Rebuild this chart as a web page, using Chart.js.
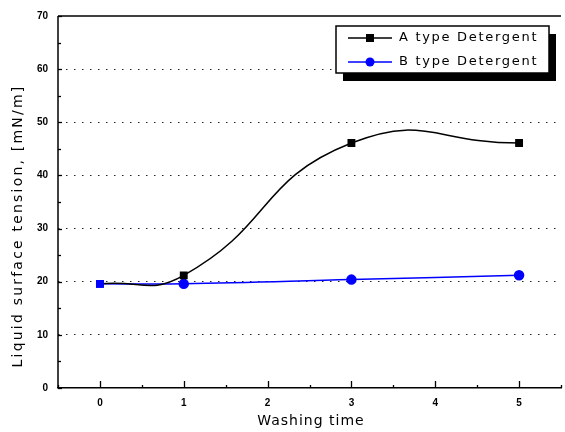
<!DOCTYPE html>
<html>
<head>
<meta charset="utf-8">
<script src="https://cdn.jsdelivr.net/npm/chart.js@4.4.1/dist/chart.umd.min.js"></script>
<style>
html,body{margin:0;padding:0;background:#fff;overflow:hidden;width:565px;height:432px;}
#wrap{width:567px;height:432px;position:relative;}
</style>
</head>
<body>
<div id="wrap"><canvas id="c" width="567" height="432"></canvas></div>
<script>
const washingTime = [0, 1, 3, 5];
const seriesA = [19.6, 21.2, 46.1, 46.1];
const seriesB = [19.6, 19.6, 20.4, 21.2];
const seriesNames = ['A type Detergent', 'B type Detergent'];
const xTickValues = [0, 1, 2, 3, 4, 5];
const yTickValues = [0, 10, 20, 30, 40, 50, 60, 70];
const xTitle = 'Washing time';
const yTitle = 'Liquid surface tension, [mN/m]';

const toXY = (ys) => washingTime.map((x, i) => ({x: x, y: ys[i]}));

const decor = {
  id: 'decor',
  afterDraw(chart) {
    const ctx = chart.ctx, a = chart.chartArea;
    const xs = chart.scales.x, ys = chart.scales.y;
    ctx.save();
    ctx.setLineDash([]);
    ctx.strokeStyle = '#000';
    ctx.lineWidth = 1.5;
    // top border and left axis
    ctx.beginPath(); ctx.moveTo(a.left, a.top); ctx.lineTo(a.right, a.top); ctx.stroke();
    ctx.beginPath(); ctx.moveTo(a.left, a.top); ctx.lineTo(a.left, a.bottom); ctx.stroke();
    // x ticks (inward)
    ctx.lineWidth = 1.3;
    for (let v = -0.5; v <= 5.5; v += 0.5) {
      const px = Math.round(xs.getPixelForValue(v)) + 0.5;
      const major = Number.isInteger(v);
      ctx.beginPath(); ctx.moveTo(px, a.bottom); ctx.lineTo(px, a.bottom - (major ? 7 : 3)); ctx.stroke();
    }
    // y ticks (inward)
    for (let v = 0; v <= 70; v += 5) {
      const py = Math.round(ys.getPixelForValue(v)) + 0.5;
      const major = v % 10 === 0;
      ctx.beginPath(); ctx.moveTo(a.left, py); ctx.lineTo(a.left + (major ? 4 : 3), py); ctx.stroke();
    }
    // axis titles
    ctx.fillStyle = '#000';
    ctx.font = '14px "DejaVu Sans"';
    ctx.letterSpacing = '1px';
    ctx.textAlign = 'center'; ctx.textBaseline = 'middle';
    ctx.fillText(xTitle, 311, 421);
    ctx.save();
    ctx.translate(18, 226);
    ctx.rotate(-Math.PI / 2);
    ctx.font = '14px "DejaVu Sans"';
    ctx.letterSpacing = '2.2px';
    ctx.fillText(yTitle, 0, 0);
    ctx.restore();
    // legend
    const bx = 336, by = 26, bw = 213, bh = 47;
    ctx.fillStyle = '#000';
    ctx.fillRect(bx + 7, by + 8, bw, bh);
    ctx.fillStyle = '#fff';
    ctx.fillRect(bx, by, bw, bh);
    ctx.lineWidth = 1.5; ctx.strokeStyle = '#000';
    ctx.strokeRect(bx, by, bw, bh);
    const ds = chart.data.datasets;
    const rows = [38, 62];
    ds.forEach((d, i) => {
      const y = rows[i];
      ctx.strokeStyle = d.borderColor; ctx.lineWidth = 1.5;
      ctx.beginPath(); ctx.moveTo(348, y); ctx.lineTo(392, y); ctx.stroke();
      ctx.fillStyle = d.borderColor;
      if (i === 0) { ctx.fillRect(366, y - 4, 8, 8); }
      else { ctx.beginPath(); ctx.arc(370, y, 4.5, 0, Math.PI * 2); ctx.fill(); }
      ctx.fillStyle = '#000';
      ctx.font = '13px "DejaVu Sans"';
      ctx.letterSpacing = '1.7px';
      ctx.textAlign = 'left';
      ctx.fillText(d.label, 399, y);
    });
    ctx.restore();
  }
};

new Chart(document.getElementById('c'), {
  type: 'line',
  data: {
    datasets: [
      {
        label: seriesNames[0],
        data: toXY(seriesA),
        borderColor: '#000000',
        backgroundColor: '#000000',
        pointBackgroundColor: ['#0000ff', '#000', '#000', '#000'],
        pointBorderColor: ['#0000ff', '#000', '#000', '#000'],
        pointStyle: 'rect',
        pointRadius: 4.5,
        borderWidth: 1.5,
        tension: 0.5,
        fill: false
      },
      {
        label: seriesNames[1],
        data: toXY(seriesB),
        borderColor: '#0000ff',
        backgroundColor: '#0000ff',
        pointStyle: ['rect', 'circle', 'circle', 'circle'],
        pointRadius: 4.5,
        borderWidth: 1.5,
        tension: 0.4,
        fill: false
      }
    ]
  },
  options: {
    responsive: false,
    animation: false,
    events: [],
    layout: {padding: {top: 14, right: 0, left: 0, bottom: 0}},
    plugins: {legend: {display: false}, tooltip: {enabled: false}, title: {display: false}},
    scales: {
      x: {
        type: 'linear', min: -0.5, max: 5.5,
        afterBuildTicks: (s) => { s.ticks = xTickValues.map(v => ({value: v})); },
        afterFit: (s) => { s.height = 44; },
        grid: {display: false, drawTicks: false},
        border: {color: '#000', width: 1.5},
        ticks: {color: '#000', font: {family: 'Liberation Sans', size: 10, weight: 'bold'}, padding: 9, maxRotation: 0}
      },
      y: {
        type: 'linear', min: 0, max: 70,
        afterBuildTicks: (s) => { s.ticks = yTickValues.map(v => ({value: v})); },
        afterFit: (s) => { s.width = 58; },
        grid: {
          drawTicks: false,
          color: (c) => (c.tick && (c.tick.value === 0 || c.tick.value === 70)) ? 'rgba(0,0,0,0)' : '#222',
          lineWidth: 1
        },
        border: {display: false, dash: [1.5, 6.5]},
        ticks: {color: '#000', font: {family: 'Liberation Sans', size: 10, weight: 'bold'}, padding: 10}
      }
    }
  },
  plugins: [decor]
});
</script>
</body>
</html>
